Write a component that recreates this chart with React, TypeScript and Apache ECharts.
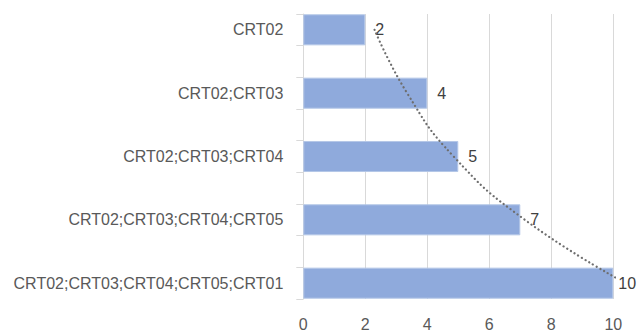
import React, { useEffect, useRef } from "react";
import * as echarts from "echarts";

// Category combinations, top to bottom
const categories = [
  "CRT02",
  "CRT02;CRT03",
  "CRT02;CRT03;CRT04",
  "CRT02;CRT03;CRT04;CRT05",
  "CRT02;CRT03;CRT04;CRT05;CRT01",
];

// Count per combination
const counts = [2, 4, 5, 7, 10];

// Exponential trend values at each category
const trendValues = [2.3, 3.35, 4.85, 7.15, 10.4];

// Value axis ticks
const xTicks = [0, 2, 4, 6, 8, 10];

const FONT = "'Liberation Sans', Arial, sans-serif";

// Each category takes a slot followed by an empty spacer slot,
// so the bars cover half of every band and ticks fall on bar edges.
function interleave<T>(arr: T[], filler: T): T[] {
  const out: T[] = [];
  arr.forEach((v, i) => {
    out.push(v);
    if (i < arr.length - 1) out.push(filler);
  });
  return out;
}

export default function App() {
  const ref = useRef<HTMLDivElement>(null);

  useEffect(() => {
    if (!ref.current) return;
    const chart = echarts.init(ref.current, undefined, { renderer: "svg" });

    const slots = interleave(categories, "");
    const maxTick = xTicks[xTicks.length - 1];
    const barData = interleave<any>(
      counts.map((v) =>
        v >= maxTick ? { value: v, label: { distance: 5 } } : v
      ),
      null
    );
    const trendData = interleave<any>(trendValues, null);

    chart.setOption({
      animation: false,
      backgroundColor: "#ffffff",
      textStyle: { fontFamily: FONT },
      grid: { left: 303.3, right: 25.7, top: 14, bottom: 34, containLabel: false },
      xAxis: {
        type: "value",
        min: xTicks[0],
        max: maxTick,
        interval: xTicks[1] - xTicks[0],
        axisLine: { show: false },
        axisTick: { show: false },
        splitLine: { show: true, lineStyle: { color: "#d9d9d9", width: 1 } },
        axisLabel: { color: "#595959", fontSize: 16, margin: 17, fontFamily: FONT },
      },
      yAxis: {
        type: "category",
        inverse: true,
        data: slots,
        axisLine: { show: true, lineStyle: { color: "#d9d9d9", width: 1 } },
        axisTick: { show: true, interval: 0, length: 7, lineStyle: { color: "#d9d9d9" } },
        axisLabel: { interval: 0, margin: 20, color: "#595959", fontSize: 16, fontFamily: FONT },
        splitLine: { show: false },
      },
      series: [
        {
          type: "bar",
          data: barData,
          barWidth: "98%",
          itemStyle: { color: "#8faadc", borderColor: "#b4c7e7", borderWidth: 1 },
          label: {
            show: true,
            position: "right",
            distance: 10,
            color: "#404040",
            fontSize: 16,
            fontFamily: FONT,
          },
        },
        {
          type: "line",
          data: trendData,
          connectNulls: true,
          smooth: true,
          showSymbol: false,
          clip: true,
          z: 3,
          lineStyle: {
            color: "#6e6e6e",
            width: 2.2,
            type: [0.1, 4.2],
            cap: "round",
          },
        },
      ],
    });

    return () => chart.dispose();
  }, []);

  return (
    <div
      ref={ref}
      style={{ position: "fixed", left: 0, top: 0, width: 639, height: 333, background: "#fff" }}
    />
  );
}
